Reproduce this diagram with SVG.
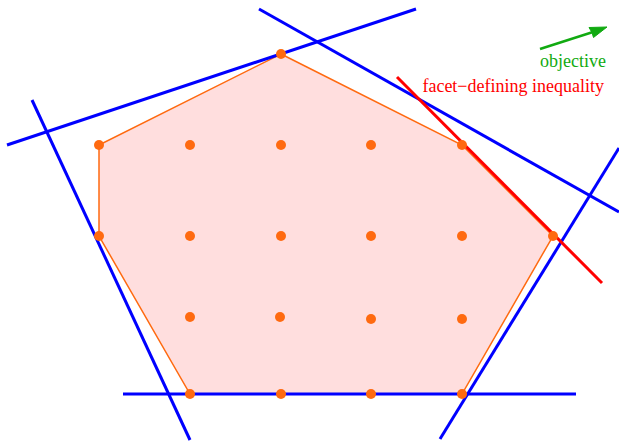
<svg xmlns="http://www.w3.org/2000/svg" width="619" height="442" viewBox="0 0 619 442">
<style>
.blue{stroke:#0000FF;stroke-width:3;fill:none}
.red{stroke:#FF0000;stroke-width:3;fill:none}
.pt{fill:#FF6A10}
.lbl{font-family:"Liberation Serif",serif;font-size:18px}
</style>
<rect width="619" height="442" fill="#FFFFFF"/>
<g id="polytope">
<polygon points="281,54 462,145 553,236 462,394 190,394 99,236 99,145" fill="#FFDEDE" stroke="#FF6A10" stroke-width="1.5"/>
</g>
<g id="connectors">
<line class="blue" x1="7" y1="145" x2="416" y2="9"/>
<line class="blue" x1="259" y1="9" x2="619" y2="212"/>
<line class="blue" x1="32" y1="100" x2="190" y2="440"/>
<line class="blue" x1="440" y1="439" x2="619" y2="148"/>
<line class="blue" x1="123" y1="394" x2="576" y2="394"/>
<line class="red" x1="397" y1="77" x2="602" y2="283"/>
<line x1="540" y1="49" x2="593" y2="32" stroke="#11AA11" stroke-width="2.5"/>
<path d="M607,27 L589,27.5 L592,32.5 L593.5,37.5 Z" fill="#11AA11" stroke="#11AA11" stroke-width="1" stroke-linejoin="round"/>
</g>
<g id="points">
<circle class="pt" cx="281" cy="54" r="5"/>
<circle class="pt" cx="99" cy="145" r="5"/>
<circle class="pt" cx="190" cy="145" r="5"/>
<circle class="pt" cx="281" cy="145" r="5"/>
<circle class="pt" cx="371" cy="145" r="5"/>
<circle class="pt" cx="462" cy="145" r="5"/>
<circle class="pt" cx="99" cy="236" r="5"/>
<circle class="pt" cx="190" cy="236" r="5"/>
<circle class="pt" cx="281" cy="236" r="5"/>
<circle class="pt" cx="371" cy="236" r="5"/>
<circle class="pt" cx="462" cy="236" r="5"/>
<circle class="pt" cx="553" cy="236" r="5"/>
<circle class="pt" cx="190" cy="317" r="5"/>
<circle class="pt" cx="280" cy="317" r="5"/>
<circle class="pt" cx="371" cy="319" r="5"/>
<circle class="pt" cx="462" cy="319" r="5"/>
<circle class="pt" cx="190" cy="394" r="5"/>
<circle class="pt" cx="281" cy="394" r="5"/>
<circle class="pt" cx="371" cy="394" r="5"/>
<circle class="pt" cx="462" cy="394" r="5"/>
</g>
<g id="labels">
<text class="lbl" x="606" y="67" text-anchor="end" fill="#11AA11">objective</text>
<text class="lbl" x="604" y="92" text-anchor="end" fill="#FF0000">facet−defining inequality</text>
</g>
</svg>
